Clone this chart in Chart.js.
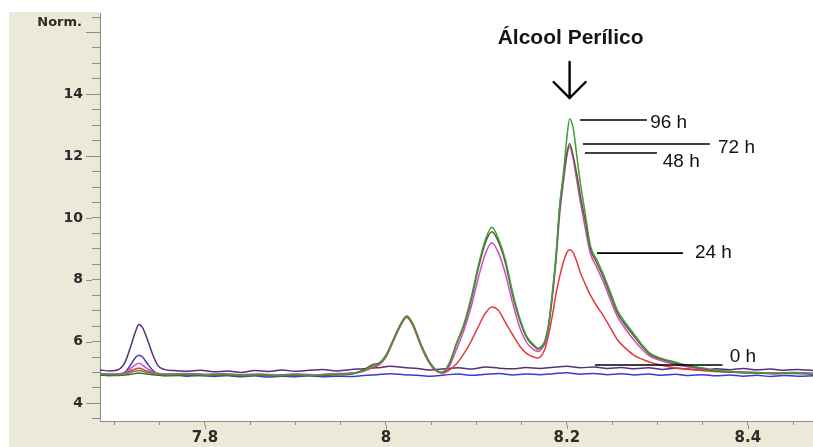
<!DOCTYPE html>
<html>
<head>
<meta charset="utf-8">
<script src="https://cdn.jsdelivr.net/npm/chart.js@4/dist/chart.umd.min.js"></script>
<style>
  html, body { margin: 0; padding: 0; background: #ffffff; }
  canvas { display: block; }
</style>
</head>
<body>
<canvas id="chrom" width="813" height="447"></canvas>
<script>
// Retention times (min) sampled for the incubation traces
const peakTimes = [
  7.684, 7.700, 7.712, 7.720, 7.727, 7.735, 7.745, 7.760, 7.780, 7.800,
  7.820, 7.840, 7.860, 7.880, 7.900, 7.920, 7.940, 7.960, 7.975, 7.985,
  7.993, 8.000, 8.008, 8.016, 8.023, 8.030, 8.038, 8.046, 8.054, 8.062,
  8.070, 8.078, 8.086, 8.094, 8.102, 8.110, 8.117, 8.124, 8.132, 8.140,
  8.148, 8.156, 8.164, 8.168, 8.172, 8.176, 8.180, 8.184, 8.188, 8.192,
  8.196, 8.200, 8.203, 8.207, 8.211, 8.215, 8.220, 8.226, 8.233, 8.240,
  8.248, 8.256, 8.265, 8.274, 8.283, 8.292, 8.302, 8.314, 8.328, 8.345,
  8.365, 8.390, 8.410, 8.430, 8.450, 8.472
];

// Normalised signal, 96 h
const signal96h = [
  4.95, 4.93, 4.96, 5.02, 5.06, 5.01, 4.96, 4.93, 4.95, 4.92,
  4.94, 4.91, 4.93, 4.90, 4.93, 4.91, 4.94, 4.96, 5.05, 5.20,
  5.30, 5.55, 6.05, 6.55, 6.82, 6.55, 5.95, 5.45, 5.12, 5.00,
  5.30, 5.95, 6.55, 7.40, 8.45, 9.30, 9.70, 9.35, 8.65, 7.60,
  6.75, 6.15, 5.88, 5.78, 5.85, 6.05, 6.60, 7.60, 8.80, 10.40,
  11.40, 12.60, 13.20, 12.90, 12.00, 11.10, 10.20, 9.10, 8.65, 8.20,
  7.60, 7.00, 6.60, 6.25, 5.90, 5.62, 5.48, 5.38, 5.27, 5.17,
  5.07, 5.01, 4.99, 4.97, 4.98, 4.96
];

// Normalised signal, 72 h
const signal72h = [
  4.92, 4.90, 4.92, 4.95, 4.98, 4.95, 4.92, 4.89, 4.92, 4.89,
  4.91, 4.88, 4.91, 4.88, 4.90, 4.89, 4.92, 4.94, 5.08, 5.25,
  5.32, 5.55, 6.05, 6.55, 6.83, 6.56, 5.96, 5.46, 5.12, 5.00,
  5.28, 5.92, 6.50, 7.32, 8.35, 9.20, 9.55, 9.25, 8.55, 7.50,
  6.68, 6.10, 5.84, 5.75, 5.82, 6.02, 6.58, 7.55, 8.75, 10.30,
  11.30, 12.10, 12.40, 12.00, 11.40, 10.70, 9.95, 9.00, 8.55, 8.10,
  7.50, 6.92, 6.52, 6.18, 5.85, 5.58, 5.45, 5.35, 5.25, 5.15,
  5.05, 5.00, 4.98, 4.96, 4.97, 4.95
];

// Normalised signal, 48 h
const signal48h = [
  4.97, 4.95, 5.00, 5.18, 5.30, 5.15, 4.99, 4.95, 4.97, 4.94,
  4.96, 4.93, 4.95, 4.92, 4.95, 4.93, 4.96, 4.98, 5.05, 5.18,
  5.28, 5.52, 6.02, 6.52, 6.80, 6.52, 5.92, 5.42, 5.10, 5.00,
  5.20, 5.75, 6.35, 7.10, 8.05, 8.85, 9.20, 8.90, 8.20, 7.25,
  6.45, 5.95, 5.72, 5.68, 5.76, 5.95, 6.50, 7.45, 8.60, 10.10,
  11.10, 12.00, 12.30, 11.90, 11.20, 10.50, 9.70, 8.85, 8.40, 7.95,
  7.35, 6.80, 6.40, 6.05, 5.75, 5.52, 5.40, 5.30, 5.21, 5.13,
  5.06, 5.02, 5.00, 4.99, 5.00, 4.98
];

// Normalised signal, 24 h
const signal24h = [
  4.96, 4.94, 4.98, 5.08, 5.14, 5.06, 4.97, 4.94, 4.96, 4.93,
  4.95, 4.92, 4.94, 4.91, 4.94, 4.92, 4.95, 4.97, 5.04, 5.15,
  5.26, 5.50, 6.00, 6.50, 6.78, 6.50, 5.90, 5.40, 5.08, 4.98,
  5.08, 5.28, 5.60, 6.00, 6.48, 6.92, 7.12, 7.02, 6.62, 6.22,
  5.85, 5.60, 5.49, 5.47, 5.55, 5.78, 6.25, 6.85, 7.55, 8.10,
  8.55, 8.88, 8.97, 8.88, 8.58, 8.22, 7.88, 7.50, 7.15, 6.85,
  6.45, 6.05, 5.78, 5.56, 5.43, 5.33, 5.25, 5.18, 5.12, 5.07,
  5.03, 5.00, 4.98, 4.97, 4.98, 4.96
];

// Retention times (min) sampled for the flat traces
const baseTimes = [
  7.684, 7.695, 7.705, 7.712, 7.718, 7.723, 7.727, 7.731, 7.736, 7.742,
  7.748, 7.755, 7.765, 7.780, 7.795, 7.810, 7.825, 7.840, 7.855, 7.870,
  7.885, 7.900, 7.915, 7.930, 7.945, 7.960, 7.975, 7.990, 8.005, 8.020,
  8.035, 8.050, 8.065, 8.080, 8.095, 8.110, 8.125, 8.140, 8.155, 8.170,
  8.185, 8.200, 8.215, 8.230, 8.245, 8.260, 8.275, 8.290, 8.305, 8.320,
  8.335, 8.350, 8.365, 8.380, 8.395, 8.410, 8.425, 8.440, 8.455, 8.472
];

// Normalised signal, 0 h
const signal0h = [
  5.08, 5.05, 5.10, 5.35, 5.85, 6.30, 6.55, 6.45, 6.10, 5.60,
  5.22, 5.10, 5.06, 5.04, 5.07, 5.02, 5.05, 5.00, 5.06, 5.03,
  5.08, 5.04, 5.07, 5.10, 5.05, 5.09, 5.12, 5.15, 5.20, 5.16,
  5.13, 5.08, 5.12, 5.15, 5.11, 5.18, 5.14, 5.12, 5.16, 5.13,
  5.17, 5.20, 5.15, 5.18, 5.13, 5.16, 5.12, 5.15, 5.10, 5.14,
  5.11, 5.08, 5.12, 5.09, 5.13, 5.08, 5.11, 5.07, 5.10, 5.06
];

// Normalised signal, medium without substrate
const signalBlank = [
  4.92, 4.90, 4.93, 5.02, 5.25, 5.48, 5.56, 5.50, 5.30, 5.08,
  4.95, 4.90, 4.92, 4.88, 4.91, 4.87, 4.90, 4.86, 4.89, 4.85,
  4.88, 4.86, 4.89, 4.86, 4.88, 4.87, 4.90, 4.93, 4.96, 4.93,
  4.91, 4.88, 4.92, 4.95, 4.91, 4.94, 4.97, 4.92, 4.95, 4.93,
  4.96, 4.99, 4.94, 4.97, 4.93, 4.96, 4.92, 4.95, 4.91, 4.94,
  4.90, 4.93, 4.89, 4.92, 4.88, 4.91, 4.87, 4.90, 4.88, 4.89
];

// Axis ticks
const xTickValues = [7.70, 7.75, 7.80, 7.85, 7.90, 7.95, 8.00, 8.05, 8.10, 8.15, 8.20, 8.25, 8.30, 8.35, 8.40, 8.45];
const xLabelValues = [7.8, 8.0, 8.2, 8.4];
const xLabelText = ['7.8', '8', '8.2', '8.4'];
const yTickValues = [3.5, 4, 4.5, 5, 5.5, 6, 6.5, 7, 7.5, 8, 8.5, 9, 9.5, 10, 10.5, 11, 11.5, 12, 12.5, 13, 13.5, 14, 14.5, 15, 15.5, 16, 16.5];
const yMajorValues = [4, 6, 8, 10, 12, 14, 16];
const yLabelValues = [4, 6, 8, 10, 12, 14];

// Texts
const seriesNames = ['96 h', '72 h', '48 h', '24 h', '0 h'];
const compoundName = 'Álcool Perílico';
const yUnitText = 'Norm.';
const compoundTime = 8.203;

// Callout geometry in data units (same order as seriesNames)
const calloutLayout = [
  { x0: 8.2144, x1: 8.2884, y: 13.17, tx: 8.2920, ty: 13.07 },
  { x0: 8.2177, x1: 8.3580, y: 12.39, tx: 8.3670, ty: 12.26 },
  { x0: 8.2199, x1: 8.2995, y: 12.10, tx: 8.3060, ty: 11.81 },
  { x0: 8.2332, x1: 8.3282, y: 8.86,  tx: 8.3415, ty: 8.86 },
  { x0: 8.2310, x1: 8.3720, y: 5.24,  tx: 8.3800, ty: 5.50 }
];
const titleLayout = { y: 15.82, arrowTop: 15.05, arrowTip: 13.88 };

// Plot box in canvas pixels
const plotBox = { left: 100, top: 13, bottom: 421 };
let xAxisHeight = 447 - plotBox.bottom;

const toPoints = (xs, ys) => xs.map((x, i) => ({ x: x, y: ys[i] }));
const near = (a, b) => Math.abs(a - b) < 1e-6;

const frame = {
  id: 'frame',
  beforeDraw(chart) {
    const { ctx, chartArea: a, width, height } = chart;
    ctx.save();
    ctx.fillStyle = '#ffffff';
    ctx.fillRect(0, 0, width, height);
    ctx.fillStyle = '#ece9d8';
    ctx.fillRect(9, 12, width - 9, height - 12);
    ctx.fillStyle = '#ffffff';
    ctx.fillRect(a.left, 0, width - a.left, a.bottom);
    ctx.restore();
  },
  afterDraw(chart) {
    const { ctx, chartArea: a } = chart;
    const xs = chart.scales.x, ys = chart.scales.y;
    ctx.save();

    // longer marks for the labelled ticks
    ctx.strokeStyle = '#8c8c8c';
    ctx.lineWidth = 1;
    ctx.beginPath();
    yMajorValues.forEach(v => {
      const py = Math.round(ys.getPixelForValue(v)) + 0.5;
      ctx.moveTo(a.left - 14, py);
      ctx.lineTo(a.left - 8, py);
    });
    xLabelValues.forEach(v => {
      const px = Math.round(xs.getPixelForValue(v)) + 0.5;
      ctx.moveTo(px, a.bottom + 4);
      ctx.lineTo(px, a.bottom + 8);
    });
    ctx.stroke();

    // unit label at the top of the y axis
    ctx.fillStyle = '#2b2b2b';
    ctx.font = 'bold 13px "DejaVu Sans"';
    ctx.textAlign = 'right';
    ctx.textBaseline = 'middle';
    ctx.fillText(yUnitText, 82, 23);

    // compound name and arrow over its peak
    const cx = xs.getPixelForValue(compoundTime);
    ctx.fillStyle = '#151515';
    ctx.font = 'bold 21px "Liberation Sans", Arial, sans-serif';
    ctx.textAlign = 'center';
    ctx.textBaseline = 'middle';
    ctx.fillText(compoundName, cx + 1, ys.getPixelForValue(titleLayout.y));
    const yTop = ys.getPixelForValue(titleLayout.arrowTop);
    const yTip = ys.getPixelForValue(titleLayout.arrowTip);
    ctx.strokeStyle = '#000000';
    ctx.lineWidth = 2.4;
    ctx.lineCap = 'round';
    ctx.beginPath();
    ctx.moveTo(cx, yTop);
    ctx.lineTo(cx, yTip);
    ctx.moveTo(cx - 16, yTip - 16);
    ctx.lineTo(cx, yTip);
    ctx.lineTo(cx + 16, yTip - 16);
    ctx.stroke();

    // time callouts
    ctx.lineCap = 'butt';
    ctx.lineWidth = 1.6;
    ctx.font = '19px "Liberation Sans", Arial, sans-serif';
    ctx.textAlign = 'left';
    ctx.fillStyle = '#111111';
    seriesNames.forEach((name, i) => {
      const c = calloutLayout[i];
      const py = ys.getPixelForValue(c.y);
      ctx.beginPath();
      ctx.moveTo(xs.getPixelForValue(c.x0), py);
      ctx.lineTo(xs.getPixelForValue(c.x1), py);
      ctx.stroke();
      ctx.fillText(name, xs.getPixelForValue(c.tx), ys.getPixelForValue(c.ty));
    });
    ctx.restore();
  }
};

const lineStyle = (color) => ({
  borderColor: color,
  backgroundColor: color,
  borderWidth: 1.5,
  pointRadius: 0,
  fill: false,
  cubicInterpolationMode: 'monotone'
});

const chartOptions = {
  responsive: false,
  animation: false,
  devicePixelRatio: 1,
  layout: { padding: { top: plotBox.top, right: 0, bottom: 0, left: 0 } },
  plugins: {
    legend: { display: false },
    tooltip: { enabled: false },
    title: { display: false }
  },
  scales: {
    x: {
      type: 'linear',
      min: 7.684,
      max: 8.472,
      afterFit: (s) => {
        s.height = xAxisHeight;
        s.paddingLeft = 0;
        s.paddingRight = 0;
      },
      afterBuildTicks: (s) => { s.ticks = xTickValues.map(v => ({ value: v })); },
      border: { display: true, color: '#8c8c8c', width: 1 },
      grid: { drawOnChartArea: false, drawTicks: true, tickLength: 4, color: '#8c8c8c', tickColor: '#8c8c8c' },
      ticks: {
        autoSkip: false,
        maxRotation: 0,
        padding: 4,
        color: '#2b2b2b',
        font: { family: '"DejaVu Sans"', size: 15, weight: 'bold' },
        callback: (value) => {
          const i = xLabelValues.findIndex(v => near(v, value));
          return i >= 0 ? xLabelText[i] : '';
        }
      }
    },
    y: {
      type: 'linear',
      min: 3.43,
      max: 16.63,
      afterFit: (s) => {
        s.width = plotBox.left;
        s.paddingTop = 0;
        s.paddingBottom = 0;
      },
      afterBuildTicks: (s) => { s.ticks = yTickValues.map(v => ({ value: v })); },
      border: { display: true, color: '#8c8c8c', width: 1 },
      grid: { drawOnChartArea: false, drawTicks: true, tickLength: 8, color: '#8c8c8c', tickColor: '#8c8c8c' },
      ticks: {
        autoSkip: false,
        padding: 9,
        color: '#2b2b2b',
        font: { family: '"DejaVu Sans"', size: 14, weight: 'bold' },
        callback: (value) => (yLabelValues.some(v => near(v, value)) ? String(value) : '')
      }
    }
  }
};

const chart = new Chart(document.getElementById('chrom'), {
  type: 'line',
  data: {
    datasets: [
      Object.assign({ label: seriesNames[0], data: toPoints(peakTimes, signal96h) }, lineStyle('#3f9e3a')),
      Object.assign({ label: seriesNames[1], data: toPoints(peakTimes, signal72h) }, lineStyle('#5f5a30')),
      Object.assign({ label: seriesNames[2], data: toPoints(peakTimes, signal48h) }, lineStyle('#d448c4')),
      Object.assign({ label: seriesNames[3], data: toPoints(peakTimes, signal24h) }, lineStyle('#e23b3f')),
      Object.assign({ label: seriesNames[4], data: toPoints(baseTimes, signal0h) }, lineStyle('#56307a')),
      Object.assign({ label: 'Meio', data: toPoints(baseTimes, signalBlank) }, lineStyle('#3b3bd0'))
    ]
  },
  options: chartOptions,
  plugins: [frame]
});

// pin the plot box to its intended pixel position
for (let pass = 0; pass < 3; pass++) {
  const area = chart.chartArea;
  const dTop = plotBox.top - area.top;
  const dBottom = area.bottom - plotBox.bottom;
  if (Math.abs(dTop) < 0.5 && Math.abs(dBottom) < 0.5) break;
  chartOptions.layout.padding.top += dTop;
  xAxisHeight += dBottom;
  chart.update();
}
</script>
</body>
</html>
